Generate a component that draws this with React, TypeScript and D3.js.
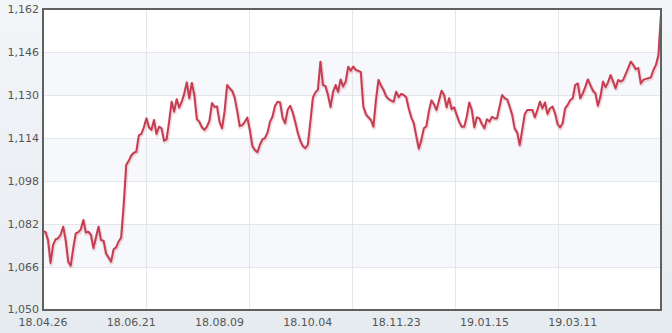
import React from "react";
import * as d3 from "d3";

const tickLabels = ["18.04.26", "18.06.21", "18.08.09", "18.10.04", "18.11.23", "19.01.15", "19.03.11"];
const labelEvery = 35;
const yTicks = [1050, 1066, 1082, 1098, 1114, 1130, 1146, 1162];

const values = [
  1079.4, 1079, 1076, 1067.5, 1074.2, 1076.3, 1076.7, 1078, 1081, 1076,
  1068, 1066.5, 1073, 1078.5, 1079, 1080, 1083.5, 1078.8, 1079.1, 1078,
  1073, 1077, 1081, 1076, 1075.8, 1071, 1069.5, 1068, 1072.6, 1073.3,
  1075.5, 1077, 1089, 1104, 1105.5, 1107.5, 1108.5, 1108.9, 1115, 1115.5,
  1118, 1121.3, 1118, 1117, 1120.7, 1115.5, 1118.2, 1117.6, 1113, 1113.5,
  1120, 1127.5, 1123.8, 1128.4, 1125.3, 1127.5, 1130.5, 1134.7, 1128.8, 1134.5,
  1130, 1121, 1120, 1118, 1117, 1118.2, 1120.5, 1127, 1125.5, 1125.7,
  1120, 1117.6, 1124, 1133.7, 1132.5, 1131.5, 1129, 1124, 1118.4, 1118.8,
  1120, 1121.6, 1117, 1111, 1109.5, 1108.7, 1111.5, 1113.5, 1114, 1116,
  1120, 1122, 1126, 1127.5, 1127.2, 1121.5, 1119.5, 1124.5, 1126, 1123.5,
  1120, 1116, 1113, 1111, 1110.2, 1111.5, 1120, 1129, 1131, 1132,
  1142.4, 1133.7, 1133.3, 1130, 1125.5, 1131.2, 1133.7, 1131.2, 1135.8, 1133.1,
  1135, 1140.5, 1139, 1140.6, 1139.3, 1139, 1138.5, 1125.7, 1122.9, 1121.7,
  1120.7, 1118.2, 1128.1, 1135.6, 1133.5, 1131.9, 1129.6, 1128.5, 1127.9, 1127.5,
  1131.2, 1129.2, 1130.4, 1130, 1129.2, 1125, 1121.7, 1119.5, 1114.6, 1110,
  1113.3, 1117.6, 1118.4, 1124, 1128, 1126.5, 1124.4, 1128, 1131.6, 1130,
  1125.4, 1128.8, 1124.7, 1125.4, 1122.6, 1120, 1118.2, 1118.2, 1121.9, 1127.2,
  1124.4, 1118, 1121.7, 1121.3, 1119.2, 1117.6, 1121, 1120.1, 1121.9, 1121.3,
  1121.3, 1125.7, 1130, 1128.8, 1128.4, 1125.7, 1122.6, 1117.5, 1116, 1111.4,
  1117, 1122.9, 1124.4, 1124.4, 1124.4, 1121.7, 1124.4, 1127.5, 1125, 1127.2,
  1122.9, 1125, 1125.7, 1123.2, 1119.2, 1117.9, 1119.5, 1125, 1126.3, 1128.1,
  1128.8, 1133.7, 1134.3, 1128.8, 1130.6, 1133, 1135.8, 1133.7, 1131.6, 1130.6,
  1126, 1129.4, 1135, 1132.9, 1134.7, 1137.4, 1135, 1132.5, 1135.6, 1135,
  1135.6, 1137.8, 1140, 1142.4, 1141.2, 1139.6, 1140, 1134.3, 1135.6, 1136,
  1136.2, 1136.6, 1139.3, 1141.2, 1144.9, 1160,
];

const W = 672;
const H = 333;
const L = 43;
const R = 661;
const T = 9;
const B = 310;

export default function App() {
  const x = d3.scaleLinear().domain([0, values.length - 1]).range([L, R]);
  const y = d3.scaleLinear().domain([1050, 1162]).range([B, T]);
  const grid = d3.scaleLinear().domain([0, 6]).range([L, R]);
  const line = d3
    .line<number>()
    .x((_, i) => x(i))
    .y((d) => y(d));
  const d = line(values) || "";
  const font = "'DejaVu Sans', Verdana, sans-serif";

  return (
    <svg width={W} height={H} style={{ position: "absolute", left: 0, top: 0 }}>
      <defs>
        <linearGradient id="bg" x1="0" y1="0" x2="0" y2="1">
          <stop offset="0" stopColor="#f3f6f9" />
          <stop offset="1" stopColor="#e6ebf0" />
        </linearGradient>
        <clipPath id="clip">
          <rect x={L} y={T} width={R - L} height={B - T} />
        </clipPath>
      </defs>
      <rect x={0} y={0} width={W} height={H} fill="url(#bg)" />
      <rect x={L} y={T} width={R - L} height={B - T} fill="#ffffff" />
      {yTicks.slice(0, -1).map((t, i) =>
        i % 2 === 1 ? (
          <rect key={"band" + t} x={L} y={y(yTicks[i + 1])} width={R - L} height={y(t) - y(yTicks[i + 1])} fill="#f6f8fb" />
        ) : null
      )}
      {yTicks.slice(1, -1).map((t) => (
        <line key={"gy" + t} x1={L} x2={R} y1={Math.round(y(t)) + 0.5} y2={Math.round(y(t)) + 0.5} stroke="#e3e7ec" strokeWidth={1} />
      ))}
      {[1, 2, 3, 4, 5].map((k) => (
        <line key={"gx" + k} x1={Math.round(grid(k)) + 0.5} x2={Math.round(grid(k)) + 0.5} y1={T} y2={B} stroke="#e3e7ec" strokeWidth={1} />
      ))}
      <g clipPath="url(#clip)">
        <path d={d} fill="none" stroke="rgba(190,60,80,0.18)" strokeWidth={4} strokeLinejoin="round" transform="translate(0.5,1)" />
        <path d={d} fill="none" stroke="#c63d52" strokeWidth={2} strokeLinejoin="round" />
      </g>
      <rect x={L} y={T} width={R - L} height={B - T} fill="none" stroke="#616161" strokeWidth={2} />
      {yTicks.map((t) => (
        <text key={"yl" + t} x={39} y={y(t) + (t === 1050 ? 2.5 : 4)} textAnchor="end" fontFamily={font} fontSize={11} fill="#555">
          {d3.format(",")(t)}
        </text>
      ))}
      {tickLabels.map((lab, i) => (
        <text key={"xl" + lab} x={x(i * labelEvery)} y={326} textAnchor="middle" fontFamily={font} fontSize={11} fill="#555">
          {lab}
        </text>
      ))}
    </svg>
  );
}
